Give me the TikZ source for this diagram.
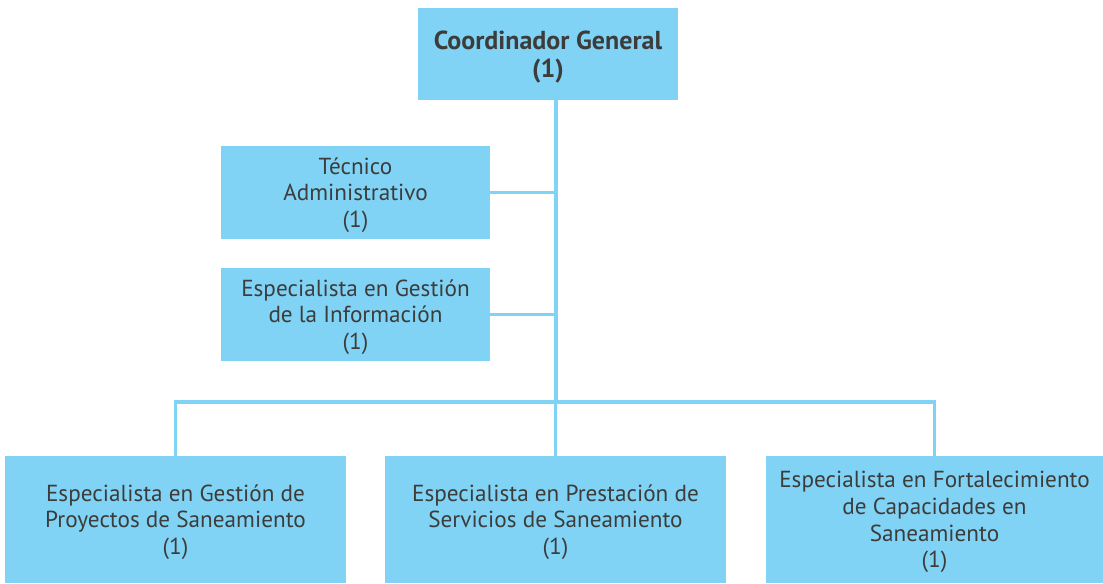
\documentclass[tikz,border=0pt]{standalone}
\usepackage{fontspec}
\setmainfont{PT Sans}
\definecolor{celeste}{HTML}{81D3F6}
\definecolor{texto}{HTML}{3C3C3B}
\tikzset{
  cargo/.style={fill=celeste, text=texto, align=center, inner sep=0pt,
    text depth=0pt, font=\fontsize{17.4}{20}\selectfont},
  linea/.style={draw=celeste, line width=2.6pt}
}
\begin{document}
\begin{tikzpicture}[x=0.75pt, y=-0.75pt]
      \useasboundingbox (0,0) rectangle (1103,583);
      \node[cargo, minimum width=195pt, minimum height=69pt, font=\fontsize{19.5}{21}\selectfont\bfseries]
        (coord) at (548,54) {Coordinador General\\(1)};
      \node[cargo, minimum width=201.75pt, minimum height=69.75pt]
        (tec) at (355.5,192.5) {Técnico\\Administrativo\\(1)};
      \node[cargo, minimum width=201.75pt, minimum height=69.75pt]
        (info) at (355.5,314.5) {Especialista en Gestión\\de la Información\\(1)};
      \node[cargo, minimum width=255.75pt, minimum height=95.25pt]
        (proy) at (175.5,519.5) {Especialista en Gestión de\\Proyectos de Saneamiento\\(1)};
      \node[cargo, minimum width=255.75pt, minimum height=95.25pt]
        (prest) at (555.5,519.5) {Especialista en Prestación de\\Servicios de Saneamiento\\(1)};
      \node[cargo, minimum width=252.75pt, minimum height=95.25pt]
        (fort) at (934.5,519.5) {Especialista en Fortalecimiento\\de Capacidades en\\Saneamiento\\(1)};
      \coordinate (eje) at (556,402);
      \begin{scope}[linea]
        \draw (coord.south -| eje) -- (eje);
        \draw (tec.east) -- (tec.east -| eje);
        \draw (info.east) -- (info.east -| eje);
        \draw (proy.north) |- (eje) -| (fort.north);
        \draw (prest.north) -- (prest.north |- eje);
      \end{scope}
    \end{tikzpicture}
\end{document}
